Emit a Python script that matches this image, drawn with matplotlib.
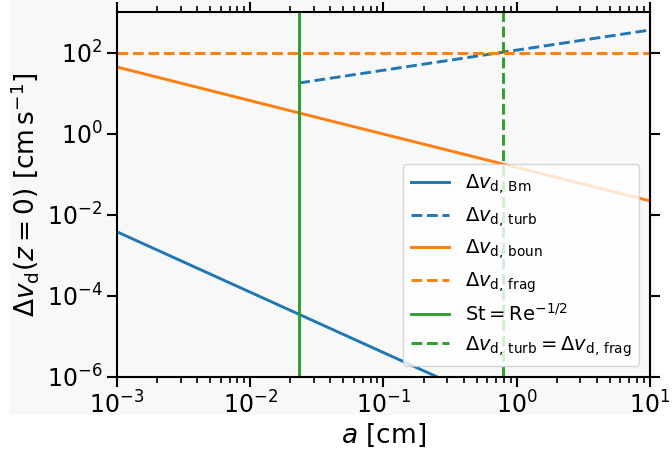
import matplotlib
matplotlib.use("Agg")
import matplotlib.pyplot as plt
from matplotlib.patches import Rectangle
from matplotlib.ticker import FixedLocator, NullLocator, LogLocator

# Data (log-log straight segments)
a_bm = [1e-3, 0.0233, 10.0]
v_bm = [3.8e-3, 3.5e-5, 4.2e-9]

a_turb = [0.0233, 10.0]
v_turb = [17.8, 360.0]

a_boun = [1e-3, 0.0233, 10.0]
v_boun = [44.0, 3.24, 0.022]

a_frag = [1e-3, 10.0]
v_frag = [100.0, 100.0]

a_st = 0.0233          # St = Re^{-1/2}
a_turb_frag = 0.794    # dv_turb = dv_frag

xlim = (1e-3, 10.0)
ylim = (1e-6, 1e3)
yticks = [1e-6, 1e-4, 1e-2, 1e0, 1e2]

labels = [r'$\Delta v_\mathrm{d,\,Bm}$', r'$\Delta v_\mathrm{d,\,turb}$',
          r'$\Delta v_\mathrm{d,\,boun}$', r'$\Delta v_\mathrm{d,\,frag}$',
          r'$\mathrm{St}=\mathrm{Re}^{-1/2}$',
          r'$\Delta v_\mathrm{d,\,turb}=\Delta v_\mathrm{d,\,frag}$']

bg = '#f8f8f8'
fig = plt.figure(figsize=(6.72, 4.5), dpi=100)
fig.patch.set_facecolor('white')
fig.patches.append(Rectangle((9/672, 1 - 415/450), (655 - 9)/672, 415/450,
                             transform=fig.transFigure, facecolor=bg,
                             edgecolor='none', zorder=-10))
ax = fig.add_axes([117/672, 1 - 377/450, (650 - 117)/672, (377 - 12)/450])
ax.set_facecolor(bg)

lw = 2.1
ax.plot(a_bm, v_bm, color='C0', lw=lw, label=labels[0])
ax.plot(a_turb, v_turb, color='C0', lw=lw, ls='--', label=labels[1])
ax.plot(a_boun, v_boun, color='C1', lw=lw, label=labels[2])
ax.plot(a_frag, v_frag, color='C1', lw=lw, ls='--', label=labels[3])
ax.axvline(a_st, color='C2', lw=lw, label=labels[4])
ax.axvline(a_turb_frag, color='C2', lw=lw, ls='--', label=labels[5])

ax.set_xscale('log')
ax.set_yscale('log')
ax.set_xlim(*xlim)
ax.set_ylim(*ylim)
ax.yaxis.set_major_locator(FixedLocator(yticks))
ax.yaxis.set_minor_locator(NullLocator())
ax.xaxis.set_major_locator(LogLocator(base=10, numticks=10))

for s in ax.spines.values():
    s.set_linewidth(1.5)
ax.tick_params(which='both', direction='out', top=True, right=True,
               labelsize=17, width=1.5)
ax.tick_params(which='major', length=7)
ax.tick_params(which='minor', length=4, width=1.2)

ax.set_xlabel(r'$a$ [cm]', fontsize=19, labelpad=2)
ax.set_ylabel(r'$\Delta v_\mathrm{d}(z=0)$ [cm$\,$s$^{-1}$]', fontsize=19, labelpad=4)

ax.legend(loc='lower right', fontsize=14, borderaxespad=0.55, labelspacing=0.45)

fig.savefig('out.png', dpi=100, facecolor='white')
